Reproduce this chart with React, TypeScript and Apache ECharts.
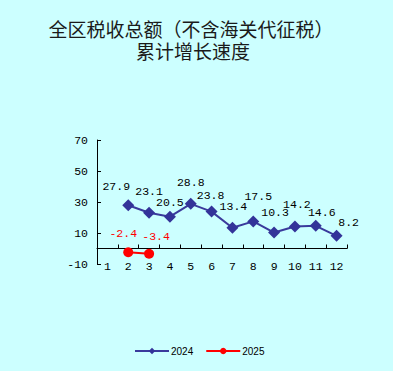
import React, { useEffect, useRef } from "react";
import * as echarts from "echarts";

const months = ["1", "2", "3", "4", "5", "6", "7", "8", "9", "10", "11", "12"];
const series2024 = [null, 27.9, 23.1, 20.5, 28.8, 23.8, 13.4, 17.5, 10.3, 14.2, 14.6, 8.2];
const series2025 = [null, -2.4, -3.4, null, null, null, null, null, null, null, null, null];
const titleLine1 = "全区税收总额（不含海关代征税）";
const titleLine2 = "累计增长速度";
const yMin = -10;
const yMax = 70;
const yStep = 20;

export default function App() {
  const ref = useRef<HTMLDivElement>(null);
  useEffect(() => {
    document.body.style.margin = "0";
    const chart = echarts.init(ref.current!, null, { renderer: "svg" });
    const numFont = "Liberation Mono";
    const plotTop = 140;
    const plotBottom = 264;
    // zero line position derived from the value range
    const zeroY = plotBottom - ((0 - yMin) / (yMax - yMin)) * (plotBottom - plotTop);
    // per-point label nudges (layout only, matching the reference placement)
    const nudge2024: Array<[number, number] | null> = [
      null, [-12, -19], [0, -21], [0, -14], [0, -21], [-1, -16], [1, -21], [5, -25], [1, -20], [2, -21.5], [6, -13], [12, -13.5],
    ];
    const nudge2025: Array<[number, number] | null> = [null, [-5, -19], [7, -17.5]];
    const mk = (vals: Array<number | null>, nudges: Array<[number, number] | null>) =>
      vals.map((v, i) =>
        v == null
          ? null
          : { value: v, label: { position: "inside", offset: nudges[i] || [0, -18] } }
      );
    const titleStyle = {
      fontFamily: "Noto Sans CJK SC",
      fontSize: 19,
      lineHeight: 20,
      fill: "#1a1a1a",
      textAlign: "center",
      textVerticalAlign: "middle",
    };
    chart.setOption({
      animation: false,
      backgroundColor: "#CCFFFF",
      graphic: [
        { type: "text", x: 191, y: 28, style: { ...titleStyle, text: titleLine1 } },
        { type: "text", x: 193, y: 50, style: { ...titleStyle, text: titleLine2 } },
      ],
      grid: [
        { left: 97, right: 46, top: plotTop, bottom: 371 - plotBottom, containLabel: false },
        { left: 97, right: 46, top: plotTop, bottom: 371 - zeroY, containLabel: false },
      ],
      legend: {
        bottom: 15,
        left: 134,
        padding: 0,
        itemWidth: 34,
        itemHeight: 8,
        itemGap: 12,
        textStyle: { fontSize: 10, fontFamily: "Liberation Sans", color: "#000", padding: [0, 0, 0, -3] },
        data: ["2024", "2025"],
      },
      xAxis: [
        {
          gridIndex: 0,
          type: "category",
          data: months,
          boundaryGap: true,
          position: "bottom",
          axisLine: { show: false, onZero: false },
          axisTick: { show: false },
          axisLabel: { margin: -4, color: "#000", fontSize: 11.5, fontFamily: numFont },
        },
        {
          gridIndex: 1,
          type: "category",
          data: months,
          boundaryGap: true,
          position: "bottom",
          axisLine: { show: true, onZero: false, lineStyle: { color: "#000", width: 1 } },
          axisTick: { show: true, inside: true, length: 4, lineStyle: { color: "#000" } },
          axisLabel: { show: false },
        },
      ],
      yAxis: [
        {
          gridIndex: 0,
          type: "value",
          min: yMin,
          max: yMax,
          interval: yStep,
          axisLine: { show: true, onZero: false, lineStyle: { color: "#000", width: 1 } },
          axisTick: { show: true, inside: true, length: 4, lineStyle: { color: "#000" } },
          splitLine: { show: false },
          axisLabel: { margin: 9, color: "#000", fontSize: 11.5, fontFamily: numFont },
        },
        {
          gridIndex: 1,
          type: "value",
          show: false,
          min: 0,
          max: yMax,
        },
      ],
      series: [
        {
          name: "2024",
          type: "line",
          xAxisIndex: 0,
          yAxisIndex: 0,
          data: mk(series2024, nudge2024),
          symbol: "diamond",
          symbolSize: 12,
          itemStyle: { color: "#333399" },
          lineStyle: { color: "#3a3a9c", width: 2 },
          label: { show: true, color: "#000", fontSize: 11.5, fontFamily: numFont },
          z: 3,
        },
        {
          name: "2025",
          type: "line",
          xAxisIndex: 0,
          yAxisIndex: 0,
          data: mk(series2025, nudge2025),
          symbol: "circle",
          symbolSize: 10,
          itemStyle: { color: "#FF0000" },
          lineStyle: { color: "#FF0000", width: 2 },
          label: { show: true, color: "#FF0000", fontSize: 11.5, fontFamily: numFont },
          z: 3,
        },
      ],
    });
    return () => chart.dispose();
  }, []);
  return <div ref={ref} style={{ width: 393, height: 371 }} />;
}
